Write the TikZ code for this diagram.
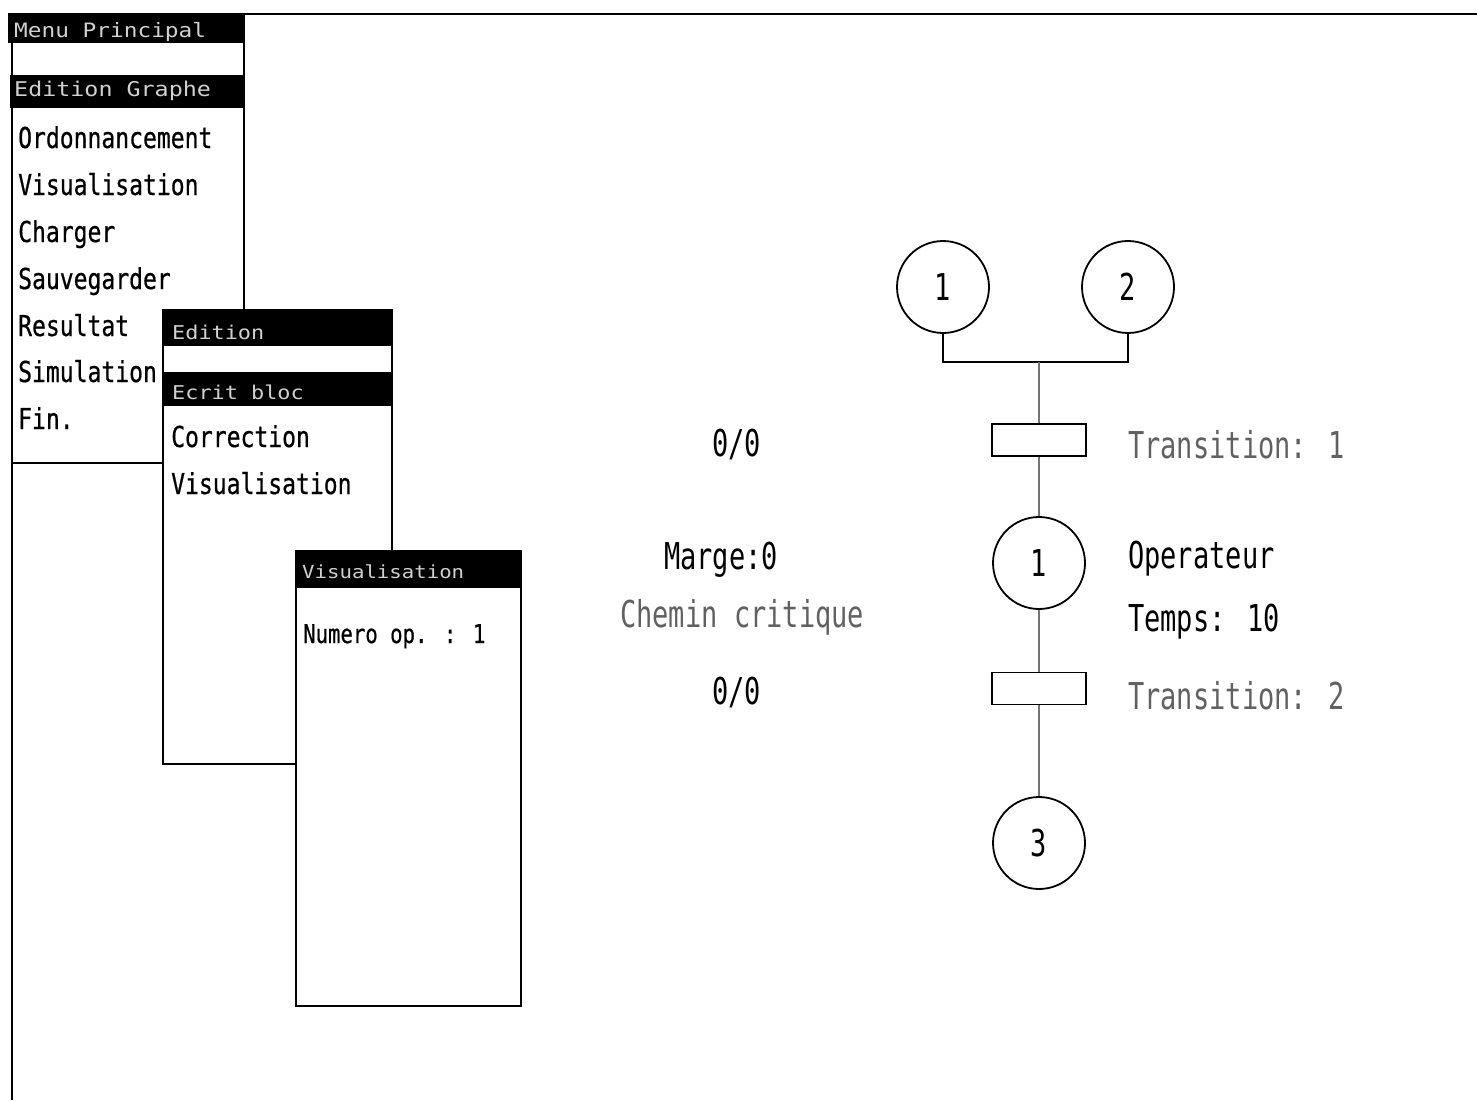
\documentclass[tikz,border=0pt]{standalone}
\usepackage{fontspec}
\newfontfamily\menufont[FakeStretch=0.8,FakeBold=0.6]{DejaVu Sans Mono}
\newfontfamily\graphfont[FakeStretch=0.73]{DejaVu Sans Mono}
\newfontfamily\titlefont[FakeStretch=1.15]{DejaVu Sans Mono}
\newcommand\ttlsize[1]{\titlefont\fontsize{#1}{#1}\selectfont}
\begin{document}
\begin{tikzpicture}[x=1pt,y=-1pt,
  win/.style={draw=black,line width=2pt,fill=white},
  bar/.style={fill=black},
  ttl/.style={text=white!82!black,anchor=base west,inner sep=0pt},
  item/.style={font=\menufont\fontsize{28.8}{28.8}\selectfont,anchor=base west,inner sep=0pt},
  lbl/.style={font=\graphfont\fontsize{37}{37}\selectfont,anchor=base west,inner sep=0pt},
  faint/.style={text=black!62},
  place/.style={circle,draw=black,line width=1.8pt,minimum size=92pt,inner sep=0pt,
    font=\graphfont\fontsize{37}{37}\selectfont},
  trans/.style={rectangle,draw=black,line width=1.5pt,minimum width=94pt,minimum height=32pt,inner sep=0pt},
  arc/.style={line width=1.3pt},
  dotarc/.style={line width=1.5pt,black!55}]
\useasboundingbox (0,0) rectangle (1477,1100);

% screen edges
\draw[line width=2.5pt] (244,14) -- (1477,14);
\draw[line width=2pt] (12,14) -- (12,1100);

% main menu
\draw[win] (12,14) rectangle (244,463);
\fill[bar] (8,13) rectangle (244,43);
\fill[bar] (10,75) rectangle (244,108);
\node[ttl,font=\ttlsize{19.8}] (mtitle) at (14,37) {Menu Principal};
\node[ttl,font=\ttlsize{20.3}] (mgraph) at (14,96) {Edition Graphe};
\node[item] (m1) at (18,148) {Ordonnancement};
\node[item] (m2) at (18,195) {Visualisation};
\node[item] (m3) at (18,242) {Charger};
\node[item] (m4) at (18,289) {Sauvegarder};
\node[item] (m5) at (18,336) {Resultat};
\node[item] (m6) at (18,382) {Simulation};
\node[item] (m7) at (18,429) {Fin.};

% edition menu
\draw[win] (163,310) rectangle (392,764);
\fill[bar] (163,310) rectangle (392,346);
\fill[bar] (163,372) rectangle (392,406);
\node[ttl,font=\ttlsize{19}] (etitle) at (172,339) {Edition};
\node[ttl,font=\ttlsize{19}] (ebloc) at (172,399) {Ecrit bloc};
\node[item] (e1) at (171,447) {Correction};
\node[item] (e2) at (171,494) {Visualisation};

% visualisation window
\draw[win] (296,551) rectangle (521,1006);
\fill[bar] (296,551) rectangle (521,588);
\node[ttl,font=\ttlsize{18}] (vtitle) at (302,578) {Visualisation};
\node[item,font=\menufont\fontsize{25.8}{25.8}\selectfont] (vnum) at (303,643) {Numero op. : 1};

% graph
\node[place] (p1) at (943,287) {1};
\node[place] (p2) at (1128,287) {2};
\coordinate (join) at (1039,362);
\node[trans] (t1) at (1039,440) {};
\node[place] (op) at (1039,563) {1};
\node[trans] (t2) at (1039,688.5) {};
\node[place] (p3) at (1039,843) {3};

\draw[arc] (p1.south) |- (join) -| (p2.south);
\draw[dotarc] (join) -- (t1.north);
\draw[dotarc] (t1.south) -- (op.north);
\draw[dotarc] (op.south) -- (t2.north);
\draw[dotarc] (t2.south) -- (p3.north);

% labels
\node[lbl,faint] (lt1) at (1128,458) {Transition: 1};
\node[lbl] (lop) at (1128,568) {Operateur};
\node[lbl] (ltemps) at (1128,631) {Temps:  10};
\node[lbl,faint] (lt2) at (1128,709) {Transition: 2};
\node[lbl] (d1) at (712,456) {0/0};
\node[lbl] (marge) at (664,569) {Marge:0};
\node[lbl,faint] (chemin) at (620,627) {Chemin critique};
\node[lbl] (d2) at (712,704) {0/0};
\end{tikzpicture}
\end{document}
